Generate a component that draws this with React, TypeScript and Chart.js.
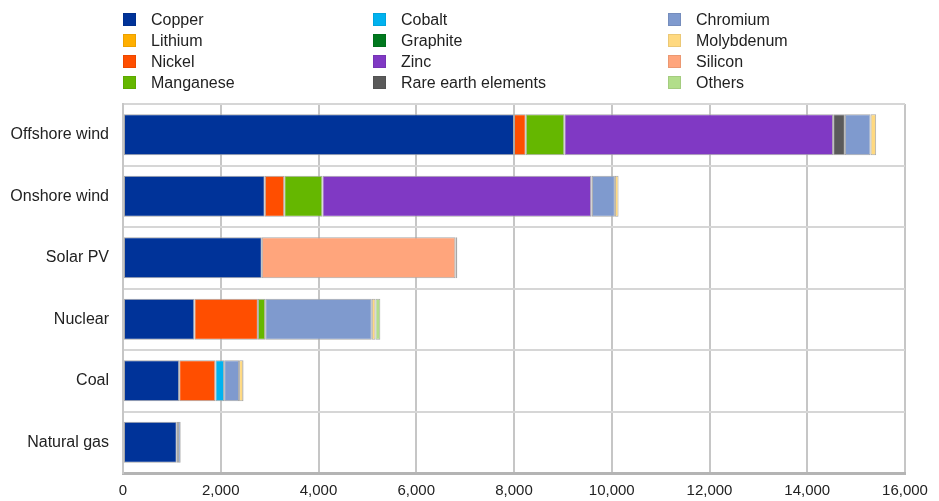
import React, { useEffect, useRef } from "react";
import { Chart, registerables } from "chart.js";

Chart.register(...registerables);

const categories = ["Offshore wind", "Onshore wind", "Solar PV", "Nuclear", "Coal", "Natural gas"];

const copper = [8000, 2900, 2840, 1460, 1150, 1100];
const lithium = [0, 0, 0, 0, 0, 0];
const nickel = [240, 400, 0, 1300, 740, 25];
const manganese = [790, 780, 0, 150, 0, 0];
const cobalt = [0, 0, 0, 0, 180, 0];
const graphite = [0, 0, 0, 0, 0, 0];
const zinc = [5500, 5500, 0, 0, 0, 0];
const rareEarth = [240, 14, 0, 0, 0, 0];
const chromium = [525, 470, 0, 2180, 305, 55];
const molybdenum = [115, 75, 0, 75, 85, 0];
const silicon = [0, 0, 3960, 0, 0, 0];
const others = [0, 0, 40, 100, 10, 0];

const xTicks = [0, 2000, 4000, 6000, 8000, 10000, 12000, 14000, 16000];

const seriesNames = [
  "Copper", "Lithium", "Nickel", "Manganese",
  "Cobalt", "Graphite", "Zinc", "Rare earth elements",
  "Chromium", "Molybdenum", "Silicon", "Others",
];
const seriesData = [copper, lithium, nickel, manganese, cobalt, graphite, zinc, rareEarth, chromium, molybdenum, silicon, others];
const seriesColors = [
  "#003399", "#ffaf00", "#ff4e00", "#65b700",
  "#00b2ef", "#00791e", "#8039c4", "#5a5a5a",
  "#7f9ace", "#ffd980", "#ffa57c", "#b2de8a",
];

const FONT = "'Liberation Sans', Arial, sans-serif";

export default function App() {
  const canvasRef = useRef<HTMLCanvasElement | null>(null);

  useEffect(() => {
    document.body.style.margin = "0";
    const ctx = canvasRef.current!.getContext("2d")!;
    const chart = new Chart(ctx, {
      type: "bar",
      data: {
        labels: categories,
        datasets: seriesNames.map((name, i) => ({
          label: name,
          data: seriesData[i],
          backgroundColor: seriesColors[i],
          borderColor: "#a8a8a8",
          borderWidth: 1,
          borderSkipped: false,
          barPercentage: 0.667,
          categoryPercentage: 1,
        })),
      },
      options: {
        indexAxis: "y",
        animation: false,
        responsive: true,
        maintainAspectRatio: false,
        locale: "en-US",
        layout: { padding: { top: 104, right: 34, left: 0, bottom: 0 } },
        plugins: {
          legend: { display: false },
          tooltip: { enabled: false },
        },
        scales: {
          x: {
            stacked: true,
            min: 0,
            max: 16000,
            afterBuildTicks: (scale: any) => {
              scale.ticks = xTicks.map((v) => ({ value: v }));
            },
            afterFit: (scale: any) => {
              scale.height = 28;
            },
            grid: { color: "#c6c6c6", lineWidth: 2, drawTicks: false },
            border: { color: "#b4b4b4", width: 3 },
            ticks: {
              padding: 9,
              color: "#222",
              font: { family: FONT, size: 15 },
              maxRotation: 0,
              callback: (v: any) => Number(v).toLocaleString("en-US"),
            },
          },
          y: {
            stacked: true,
            afterFit: (scale: any) => {
              scale.width = 123;
            },
            grid: { color: "#d6d6d6", lineWidth: 2, drawTicks: false, offset: true },
            border: { color: "#c6c6c6", width: 2 },
            ticks: {
              padding: 14,
              color: "#222",
              font: { family: FONT, size: 16 },
            },
          },
        },
      },
    });
    return () => chart.destroy();
  }, []);

  const legendCols = [0, 1, 2];
  const colX = [123, 373, 668];
  const rowY = [12.5, 33.5, 54.5, 75.5];

  return (
    <div style={{ position: "fixed", left: 0, top: 0, width: 939, height: 501, background: "#fff" }}>
      <canvas ref={canvasRef} />
      {legendCols.map((c) =>
        [0, 1, 2, 3].map((r) => {
          const idx = c * 4 + r;
          return (
            <div
              key={idx}
              style={{
                position: "absolute",
                left: colX[c],
                top: rowY[r],
                height: 14,
                display: "flex",
                alignItems: "center",
                fontFamily: FONT,
                fontSize: 16,
                color: "#222",
                whiteSpace: "nowrap",
              }}
            >
              <span
                style={{
                  display: "inline-block",
                  width: 13,
                  height: 13,
                  background: seriesColors[idx],
                  boxShadow: "inset 0 0 0 1px rgba(0,0,0,0.08)",
                  marginRight: 15,
                  flexShrink: 0,
                }}
              />
              <span style={{ lineHeight: "14px" }}>{seriesNames[idx]}</span>
            </div>
          );
        })
      )}
    </div>
  );
}
